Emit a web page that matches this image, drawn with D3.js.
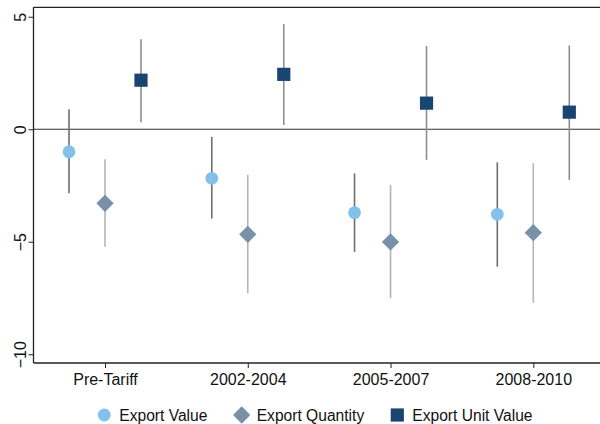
<!DOCTYPE html>
<html>
<head>
<meta charset="utf-8">
<script src="https://cdn.jsdelivr.net/npm/d3@7"></script>
<style>
  html, body { margin: 0; padding: 0; background: #fff; }
  svg { display: block; font-family: "Liberation Sans", Arial, sans-serif; }
</style>
</head>
<body>
<svg id="chart" width="600" height="424"></svg>
<script>
// Periods and series
const periods = ["Pre-Tariff", "2002-2004", "2005-2007", "2008-2010"];
const seriesNames = ["Export Value", "Export Quantity", "Export Unit Value"];

// Point estimates per series, one per period
const valueEst    = [-1.00, -2.18, -3.71, -3.78];
const quantityEst = [-3.29, -4.67, -5.01, -4.60];
const unitEst     = [ 2.18,  2.44,  1.16,  0.76];

// Confidence interval bounds
const valueLo    = [-2.84, -3.97, -5.45, -6.11];
const valueHi    = [ 0.89, -0.34, -1.96, -1.47];
const quantityLo = [-5.22, -7.29, -7.51, -7.71];
const quantityHi = [-1.33, -2.03, -2.48, -1.51];
const unitLo     = [ 0.31,  0.19, -1.36, -2.25];
const unitHi     = [ 4.00,  4.68,  3.70,  3.72];

const yTicks = [5, 0, -5, -10];

const series = [
  { name: seriesNames[0], est: valueEst,    lo: valueLo,    hi: valueHi,    shape: "circle",  fill: "#84c1ea", ci: "#6e6e6e" },
  { name: seriesNames[1], est: quantityEst, lo: quantityLo, hi: quantityHi, shape: "diamond", fill: "#7990a9", ci: "#b4b4b4" },
  { name: seriesNames[2], est: unitEst,     lo: unitLo,     hi: unitHi,     shape: "square",  fill: "#1a4570", ci: "#8e8e8e" }
];

const svg = d3.select("#chart");
const plot = { left: 33.5, right: 600, top: 7.3, bottom: 363 };

const y = d3.scaleLinear().domain([-10.39, 5.42]).range([plot.bottom, plot.top]);
const x = d3.scalePoint().domain(periods).range([105, 533.3]);
const offset = d3.scalePoint().domain(seriesNames).range([-36, 36]);

// Frame lines: top and zero reference
svg.append("line")
  .attr("x1", plot.left).attr("x2", plot.right)
  .attr("y1", plot.top).attr("y2", plot.top)
  .attr("stroke", "#222").attr("stroke-width", 1.3);

svg.append("line")
  .attr("x1", plot.left).attr("x2", plot.right)
  .attr("y1", y(0)).attr("y2", y(0))
  .attr("stroke", "#333").attr("stroke-width", 1.2);

// Y axis
const yAxis = svg.append("g")
  .attr("transform", `translate(${plot.left},0)`)
  .call(d3.axisLeft(y).tickValues(yTicks).tickSize(5).tickFormat(d3.format("d")));
yAxis.select(".domain").remove();
yAxis.append("line").attr("x1", 0).attr("x2", 0)
  .attr("y1", plot.top).attr("y2", plot.bottom)
  .attr("stroke", "#222").attr("stroke-width", 1.3);
yAxis.selectAll(".tick line").attr("stroke", "#222");
yAxis.selectAll(".tick text")
  .attr("font-size", 16).attr("fill", "#111")
  .attr("x", null).attr("dy", null)
  .attr("text-anchor", "middle")
  .attr("transform", "translate(-13,0) rotate(-90)")
  .attr("dominant-baseline", "central");

// X axis
const xAxis = svg.append("g")
  .attr("transform", `translate(0,${plot.bottom})`)
  .call(d3.axisBottom(x).tickSize(5).tickPadding(6));
xAxis.select(".domain").remove();
xAxis.append("line").attr("x1", plot.left).attr("x2", plot.right)
  .attr("y1", 0).attr("y2", 0)
  .attr("stroke", "#222").attr("stroke-width", 1.3);
xAxis.selectAll(".tick line").attr("stroke", "#222");
xAxis.selectAll(".tick text").attr("font-size", 16).attr("fill", "#111");

// Marker generators
const symbolFor = {
  circle:  d3.symbol().type(d3.symbolCircle).size(Math.PI * 6.4 * 6.4),
  square:  d3.symbol().type(d3.symbolSquare).size(13.2 * 13.2),
  diamond: d3.symbol().type(d3.symbolSquare).size(12.2 * 12.2)
};
const rotFor = { circle: 0, square: 0, diamond: 45 };

// Confidence intervals then markers
series.forEach(s => {
  const g = svg.append("g");
  const rows = periods.map((p, i) => ({ p, est: s.est[i], lo: s.lo[i], hi: s.hi[i] }));
  g.selectAll("line.ci").data(rows).join("line")
    .attr("class", "ci")
    .attr("x1", d => x(d.p) + offset(s.name))
    .attr("x2", d => x(d.p) + offset(s.name))
    .attr("y1", d => y(d.lo)).attr("y2", d => y(d.hi))
    .attr("stroke", s.ci).attr("stroke-width", 1.6);
  g.selectAll("path.pt").data(rows).join("path")
    .attr("class", "pt")
    .attr("d", symbolFor[s.shape])
    .attr("transform", d => `translate(${x(d.p) + offset(s.name)},${y(d.est)}) rotate(${rotFor[s.shape]})`)
    .attr("fill", s.fill);
});

// Legend
const legendX = [104.3, 241.7, 397.3];
const legend = svg.append("g").attr("transform", "translate(0,415)");
series.forEach((s, i) => {
  const item = legend.append("g").attr("transform", `translate(${legendX[i]},0)`);
  item.append("path")
    .attr("d", symbolFor[s.shape])
    .attr("transform", `rotate(${rotFor[s.shape]})`)
    .attr("fill", s.fill);
  item.append("text")
    .attr("x", 15).attr("y", 0)
    .attr("dominant-baseline", "central")
    .attr("font-size", 15.6).attr("fill", "#111")
    .text(s.name);
});
</script>
</body>
</html>
